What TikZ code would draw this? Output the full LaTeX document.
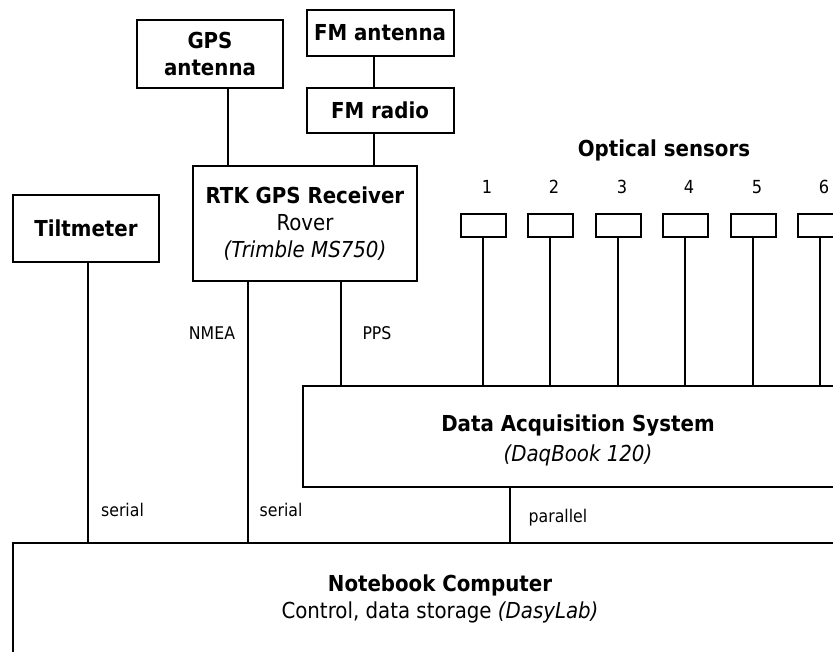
\documentclass[tikz,border=0pt]{standalone}
\usepackage{fontspec}
\setmainfont{DejaVu Sans Condensed}
\begin{document}
\begin{tikzpicture}[x=1pt,y=-1pt,
  box/.style={draw,line width=2pt,inner sep=0pt,align=center,font=\fontsize{22}{27}\selectfont},
  sensor/.style={draw,line width=2pt,inner sep=0pt,minimum width=45pt,minimum height=23pt},
  wire/.style={line width=1.8pt},
  small/.style={font=\fontsize{17.5}{20}\selectfont,inner sep=0pt},
  bigtxt/.style={font=\fontsize{22}{27}\selectfont,align=center,inner sep=0pt}]
\useasboundingbox (0,0) rectangle (833,652);
\clip (0,0) rectangle (833,652);
\fill[white] (0,0) rectangle (833,652);
% boxes
\node[box,minimum width=146pt,minimum height=68pt] (gpsant) at (210,54) {\bfseries GPS\\\bfseries antenna};
\node[box,minimum width=147pt,minimum height=46pt] (fmant) at (380,33) {\bfseries FM antenna};
\node[box,minimum width=147pt,minimum height=45pt] (fmrad) at (380,110.5) {\bfseries FM radio};
\node[box,minimum width=224pt,minimum height=115pt] (rtk) at (305,223.5) {\bfseries RTK GPS Receiver\\Rover\\\itshape (Trimble MS750)};
\node[box,minimum width=146pt,minimum height=67pt] (tilt) at (86,228.5) {\bfseries Tiltmeter};
\node[box,minimum width=550pt,minimum height=101pt] (daq) at (578,436.5) {};
\node[bigtxt] (daqtxt) at (578,440) {\bfseries Data Acquisition System\\[3pt]\itshape (DaqBook 120)};
\node[box,minimum width=854pt,minimum height=160pt] (nb) at (440,623) {};
\node[bigtxt] (nbtxt) at (440,599) {\bfseries Notebook Computer\\Control, data storage \itshape (DasyLab)};
% optical sensors
\node[bigtxt] (optt) at (664,150) {\bfseries Optical sensors};
\foreach \i/\x in {1/483,2/550,3/618,4/685,5/753,6/820}{
  \node[sensor] (s\i) at (\x,225.5) {};
  \node[bigtxt,font=\fontsize{18}{20}\selectfont] (n\i) at (\x+4,187) {\i};
  \draw[wire] (s\i.south) -- (s\i.south |- daq.north);
}
% connectors
\draw[wire] ([xshift=18pt]gpsant.south) -- ([xshift=18pt]gpsant.south |- rtk.north);
\draw[wire] ([xshift=-6pt]fmant.south) -- ([xshift=-6pt]fmrad.north);
\draw[wire] ([xshift=-6pt]fmrad.south) -- ([xshift=-6pt]fmrad.south |- rtk.north);
\draw[wire] ([xshift=2pt]tilt.south) -- ([xshift=2pt]tilt.south |- nb.north);
\draw[wire] ([xshift=-57pt]rtk.south) -- ([xshift=-57pt]rtk.south |- nb.north);
\draw[wire] ([xshift=36pt]rtk.south) -- ([xshift=36pt]rtk.south |- daq.north);
\draw[wire] ([xshift=-68pt]daq.south) -- ([xshift=-68pt]daq.south |- nb.north);
% labels
\node[small] (lnmea) at (212,333) {NMEA};
\node[small] (lpps) at (377,333) {PPS};
\node[small] (lser1) at (122.5,510) {serial};
\node[small] (lser2) at (281,510) {serial};
\node[small] (lpar) at (558,518) {parallel};
\end{tikzpicture}
\end{document}
